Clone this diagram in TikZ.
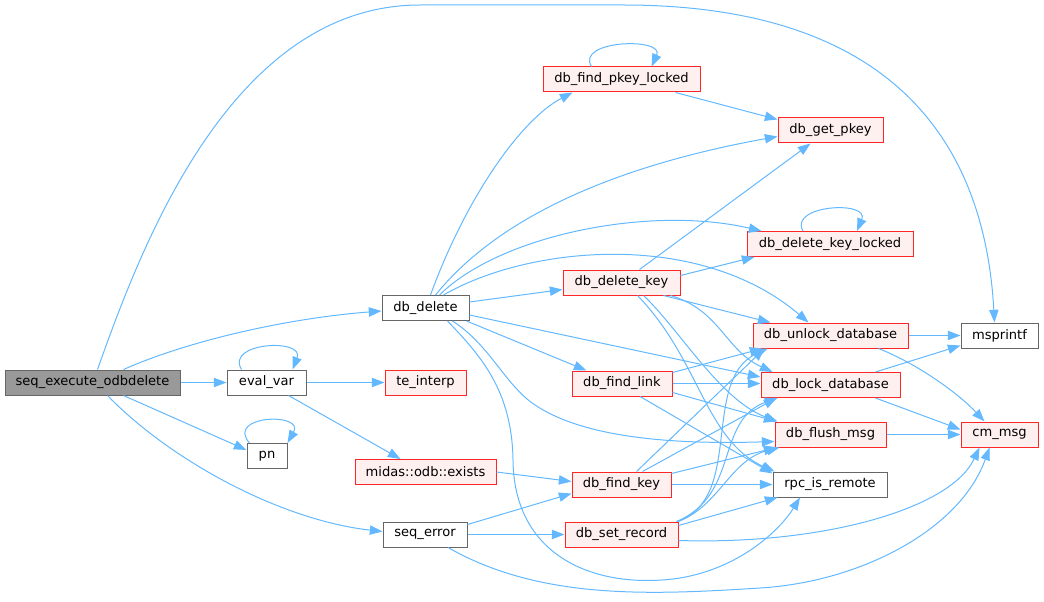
\documentclass[tikz,border=0pt]{standalone}
\usepackage{fontspec}
\setmainfont{DejaVu Sans}
\usetikzlibrary{arrows.meta,calc}
\definecolor{edgeblue}{HTML}{63B8FF}
\definecolor{extfill}{HTML}{FFF0F0}
\definecolor{rootgray}{HTML}{999999}
\definecolor{boxgray}{HTML}{666666}

\begin{document}
\begin{tikzpicture}[x=0.75pt,y=-0.75pt,font=\fontsize{9.8}{12}\selectfont,
fn/.style={draw=boxgray,fill=white,line width=0.75pt,minimum width=#1*0.75pt,minimum height=25*0.75pt,inner sep=0pt},
ext/.style={fn=#1,draw=red!85,fill=extfill},
rootfn/.style={fn=#1,fill=rootgray},
call/.style={draw=edgeblue,line width=0.75pt,-{Triangle[length=9.5pt,width=7pt]}}]
\useasboundingbox (0,0) rectangle (1044,602);

\node[rootfn=175] (root) at (92.5,382.5) {seq\_execute\_odbdelete};
\node[fn=79] (evalvar) at (266.5,382.5) {eval\_var};
\node[fn=40] (pn) at (267,456) {pn};
\node[fn=87] (dbdelete) at (425.5,308) {db\_delete};
\node[ext=81] (teinterp) at (425.5,382.5) {te\_interp};
\node[ext=141] (exists) at (425.5,472) {midas::odb::exists};
\node[fn=84] (seqerror) at (425,534.5) {seq\_error};
\node[ext=157] (findpkeylocked) at (621.5,79.5) {db\_find\_pkey\_locked};
\node[ext=117] (deletekey) at (621.5,282.5) {db\_delete\_key};
\node[ext=100] (findlink) at (622,383.5) {db\_find\_link};
\node[ext=99] (findkey) at (621.5,484.5) {db\_find\_key};
\node[ext=113] (setrecord) at (621.5,534.5) {db\_set\_record};
\node[ext=105] (getpkey) at (830.5,130.5) {db\_get\_pkey};
\node[ext=166] (deletekeylocked) at (830,244) {db\_delete\_key\_locked};
\node[ext=155] (unlock) at (830.5,335.5) {db\_unlock\_database};
\node[ext=139] (lock) at (830.5,385) {db\_lock\_database};
\node[ext=111] (flushmsg) at (830.5,434.5) {db\_flush\_msg};
\node[fn=114] (rpc) at (830,484.5) {rpc\_is\_remote};
\node[fn=77] (msprintf) at (999.5,335.5) {msprintf};
\node[ext=77] (cmmsg) at (999.5,434.5) {cm\_msg};

\draw[call] ($(root.north)+(31,0)$) .. controls (190,340) and (290,318) .. ($(dbdelete.west)+(0,3)$);
\draw[call] ($(root.north)+(5,0)$) .. controls (140,250) and (230,5) .. (420,5) -- (623,5) .. controls (900,5) and (985,150) .. ($(msprintf.north)+(-5,0)$);
\draw[call] (root.east) -- (evalvar.west);
\draw[call] ($(root.south)+(31,0)$) -- ($(pn.west)+(0,-6)$);
\draw[call] ($(root.south)+(15,0)$) .. controls (170,460) and (280,520) .. ($(seqerror.west)+(0,-3)$);

\draw[call] ($(evalvar.north)+(-25,0)$) .. controls (225,342) and (305,338) .. ($(evalvar.north)+(26,0)$);
\draw[call] (evalvar.east) -- (teinterp.west);
\draw[call] ($(evalvar.south)+(22,0)$) -- ($(exists.north)+(-25,0)$);
\draw[call] ($(pn.north west)+(3,0)$) .. controls (225,415) and (305,412) .. (pn.north east);
\draw[call] (exists.east) -- ($(findkey.west)+(0,-3)$);

\draw[call] ($(seqerror.east)+(0,-10)$) -- ($(findkey.west)+(0,9)$);
\draw[call] (seqerror.east) -- (setrecord.west);
\draw[call] ($(seqerror.south)+(23,0)$) .. controls (540,600) and (650,595) .. (760,588) .. controls (860,582) and (960,530) .. ($(cmmsg.south)+(-10,0)$);

\draw[call] ($(dbdelete.north)+(5,0)$) .. controls (465,200) and (520,120) .. ($(findpkeylocked.south west)+(30,0)$);
\draw[call] ($(dbdelete.north)+(10,0)$) .. controls (500,215) and (620,165) .. ($(getpkey.west)+(0,6)$);
\draw[call] ($(dbdelete.north)+(14,0)$) .. controls (500,235) and (650,205) .. ($(deletekeylocked.north west)+(15,0)$);
\draw[call] ($(dbdelete.north)+(18,0)$) .. controls (530,245) and (700,230) .. ($(unlock.north)+(-22,0)$);
\draw[call] ($(dbdelete.east)+(0,-6)$) -- ($(deletekey.west)+(0,7)$);
\draw[call] ($(dbdelete.east)+(0,7)$) -- ($(lock.west)+(0,-8)$);
\draw[call] ($(dbdelete.south east)+(-3,0)$) -- ($(findlink.north west)+(15,0)$);
\draw[call] ($(dbdelete.south)+(27,0)$) .. controls (490,345) and (505,385) .. (535,405) .. controls (580,435) and (660,445) .. ($(flushmsg.west)+(0,7)$);
\draw[call] ($(dbdelete.south)+(22,0)$) .. controls (480,355) and (512,390) .. (513,460) .. controls (514,560) and (600,590) .. (680,578) .. controls (740,568) and (780,530) .. ($(rpc.south)+(-30,0)$);

\draw[call] ($(deletekey.east)+(0,-7)$) -- ($(deletekeylocked.south west)+(8,0)$);
\draw[call] ($(deletekey.north)+(18,0)$) -- ($(getpkey.south)+(-20,0)$);
\draw[call] ($(deletekey.south east)+(-17,0)$) -- ($(unlock.north west)+(18,0)$);
\draw[call] ($(deletekey.south east)+(-10,0)$) .. controls (720,310) and (725,350) .. ($(lock.north west)+(12,0)$);
\draw[call] ($(deletekey.south)+(22,0)$) .. controls (680,330) and (720,400) .. ($(flushmsg.north west)+(3,0)$);
\draw[call] ($(deletekey.south)+(16,0)$) .. controls (700,360) and (705,440) .. ($(rpc.north west)+(2,0)$);

\draw[call] ($(findlink.east)+(0,-11)$) -- ($(unlock.south west)+(10,0)$);
\draw[call] (findlink.east) -- (findlink.east -| lock.west);
\draw[call] ($(findlink.east)+(0,9)$) -- ($(flushmsg.north west)+(2,0)$);
\draw[call] ($(findlink.south)+(18,0)$) -- ($(rpc.north west)+(0,2)$);

\draw[call] ($(findkey.north)+(15,0)$) -- ($(unlock.south west)+(12,0)$);
\draw[call] ($(findkey.north)+(21,0)$) -- ($(lock.south west)+(16,0)$);
\draw[call] ($(findkey.north east)+(0,2)$) -- ($(flushmsg.south west)+(2,0)$);
\draw[call] (findkey.east) -- (findkey.east -| rpc.west);

\draw[call] ($(setrecord.north east)+(-2,0)$) .. controls (745,500) and (700,380) .. ($(unlock.south west)+(15,0)$);
\draw[call] ($(setrecord.north east)+(-2,0)$) .. controls (740,495) and (715,420) .. ($(lock.south west)+(17,0)$);
\draw[call] (setrecord.north east) .. controls (720,505) and (730,460) .. ($(flushmsg.south west)+(5,0)$);
\draw[call] ($(setrecord.east)+(0,-9)$) -- ($(rpc.south west)+(5,0)$);
\draw[call] ($(setrecord.east)+(0,6)$) .. controls (820,545) and (950,510) .. ($(cmmsg.south)+(-20,0)$);

\draw[call] ($(findpkeylocked.north)+(-30,0)$) .. controls (575,40) and (665,37) .. ($(findpkeylocked.north)+(30,0)$);
\draw[call] ($(findpkeylocked.south east)+(-25,0)$) -- ($(getpkey.north west)+(0,2)$);
\draw[call] ($(deletekeylocked.north)+(-27,0)$) .. controls (788,205) and (870,200) .. ($(deletekeylocked.north)+(27,0)$);

\draw[call] (unlock.east) -- (msprintf.west);
\draw[call] ($(unlock.south east)+(-30,0)$) .. controls (920,365) and (960,395) .. ($(cmmsg.north)+(-15,0)$);
\draw[call] ($(lock.north east)+(-25,0)$) -- ($(msprintf.south west)+(0,-3)$);
\draw[call] ($(lock.south east)+(-25,0)$) -- ($(cmmsg.west)+(0,-5)$);
\draw[call] (flushmsg.east) -- (cmmsg.west);
\end{tikzpicture}
\end{document}
